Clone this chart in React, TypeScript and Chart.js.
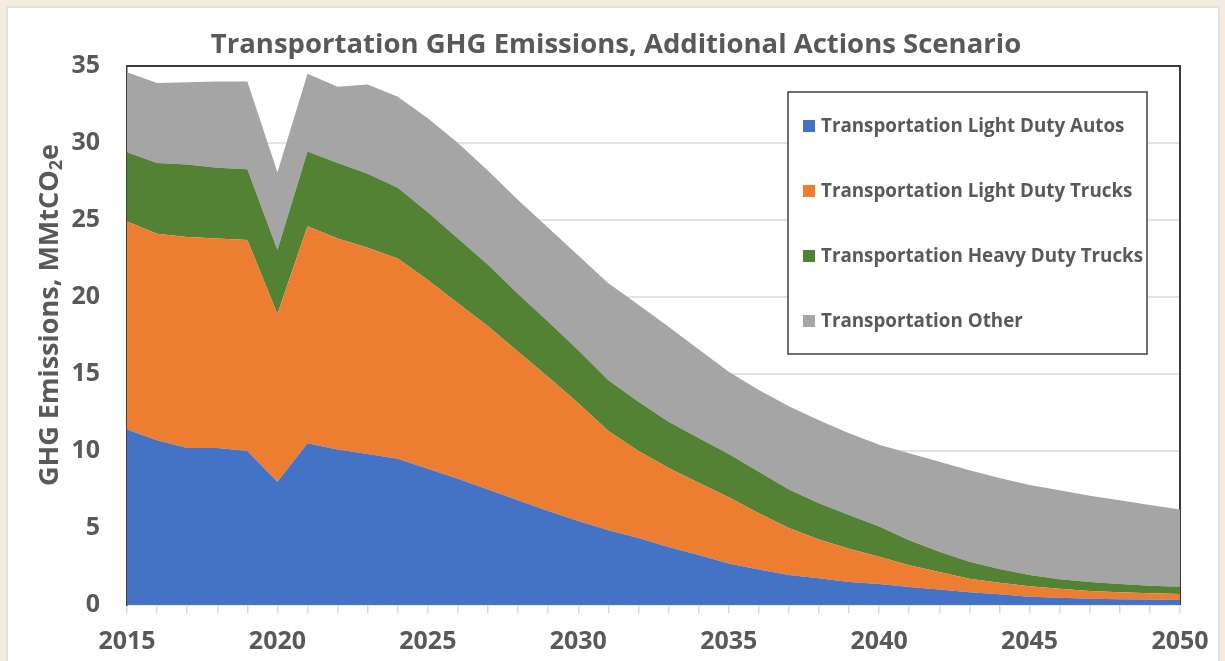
import React, { useEffect, useRef } from "react";
import { Chart, registerables } from "chart.js";

Chart.register(...registerables);

const years: number[] = [
  2015, 2016, 2017, 2018, 2019, 2020, 2021, 2022, 2023, 2024, 2025, 2026,
  2027, 2028, 2029, 2030, 2031, 2032, 2033, 2034, 2035, 2036, 2037, 2038,
  2039, 2040, 2041, 2042, 2043, 2044, 2045, 2046, 2047, 2048, 2049, 2050,
];

const lightDutyAutos: number[] = [
  11.4, 10.7, 10.2, 10.2, 10.0, 8.0, 10.5, 10.1, 9.8, 9.5, 8.85, 8.2, 7.5,
  6.8, 6.1, 5.45, 4.85, 4.35, 3.77, 3.25, 2.7, 2.3, 1.95, 1.73, 1.5, 1.36,
  1.17, 1.0, 0.82, 0.69, 0.54, 0.47, 0.41, 0.37, 0.35, 0.32,
];

const lightDutyTrucks: number[] = [
  13.5, 13.4, 13.7, 13.6, 13.7, 10.9, 14.1, 13.7, 13.4, 13.0, 12.25, 11.4,
  10.6, 9.65, 8.7, 7.65, 6.45, 5.65, 5.13, 4.69, 4.29, 3.65, 3.05, 2.52, 2.15,
  1.78, 1.41, 1.14, 0.89, 0.76, 0.67, 0.59, 0.5, 0.45, 0.41, 0.39,
];

const heavyDutyTrucks: number[] = [
  4.5, 4.6, 4.7, 4.6, 4.6, 4.15, 4.85, 4.9, 4.8, 4.6, 4.4, 4.2, 4.0, 3.75,
  3.6, 3.45, 3.3, 3.2, 3.0, 2.9, 2.81, 2.71, 2.5, 2.35, 2.19, 1.95, 1.62,
  1.31, 1.1, 0.89, 0.74, 0.61, 0.58, 0.54, 0.49, 0.48,
];

const otherTransport: number[] = [
  5.2, 5.2, 5.35, 5.6, 5.7, 5.05, 5.05, 4.95, 5.8, 5.9, 6.1, 6.2, 6.1, 6.1,
  6.1, 6.15, 6.3, 6.3, 6.17, 5.76, 5.35, 5.3, 5.4, 5.4, 5.31, 5.31, 5.65,
  5.85, 5.94, 5.91, 5.85, 5.78, 5.61, 5.44, 5.25, 5.01,
];

const seriesNames: string[] = [
  "Transportation Light Duty Autos",
  "Transportation Light Duty Trucks",
  "Transportation Heavy Duty Trucks",
  "Transportation Other",
];

const seriesColors: string[] = ["#4472C4", "#ED7D31", "#548235", "#A5A5A5"];

const yTicks: number[] = [0, 5, 10, 15, 20, 25, 30, 35];

const titleText = "Transportation GHG Emissions, Additional Actions Scenario";
const yTitleMain = "GHG Emissions, MMtCO";
const yTitleSub = "2";
const yTitleEnd = "e";

const FONT = "'Open Sans', 'Noto Sans', sans-serif";
const TEXT_COLOR = "#595959";

const frameBorderPlugin = {
  id: "frameBorder",
  beforeDatasetsDraw(chart: any) {
    const { ctx, chartArea } = chart;
    ctx.save();
    ctx.strokeStyle = "#3a3a3a";
    ctx.lineWidth = 2;
    ctx.beginPath();
    ctx.moveTo(chartArea.left, chartArea.top);
    ctx.lineTo(chartArea.right, chartArea.top);
    ctx.lineTo(chartArea.right, chartArea.bottom);
    ctx.stroke();
    ctx.restore();
  },
};

const yTitlePlugin = {
  id: "yTitle",
  afterDraw(chart: any) {
    const { ctx } = chart;
    const mainFont = `bold 27px ${FONT}`;
    const subFont = `bold 18px ${FONT}`;
    ctx.save();
    ctx.font = mainFont;
    const w1 = ctx.measureText(yTitleMain).width;
    const w3 = ctx.measureText(yTitleEnd).width;
    ctx.font = subFont;
    const w2 = ctx.measureText(yTitleSub).width;
    const total = w1 + w2 + w3;
    const cx = 50;
    const cy = 315;
    ctx.translate(cx, cy);
    ctx.rotate(-Math.PI / 2);
    ctx.fillStyle = TEXT_COLOR;
    ctx.textBaseline = "middle";
    ctx.textAlign = "left";
    let x = -total / 2;
    ctx.font = mainFont;
    ctx.fillText(yTitleMain, x, 0);
    x += w1;
    ctx.font = subFont;
    ctx.fillText(yTitleSub, x, 7);
    x += w2;
    ctx.font = mainFont;
    ctx.fillText(yTitleEnd, x, 0);
    ctx.restore();
  },
};

const boxLegendPlugin = {
  id: "boxLegend",
  afterDatasetsDraw(chart: any) {
    const { ctx } = chart;
    const x0 = 788;
    const y0 = 92;
    const w = 359;
    const h = 262;
    ctx.save();
    ctx.fillStyle = "#ffffff";
    ctx.fillRect(x0, y0, w, h);
    ctx.strokeStyle = "#404040";
    ctx.lineWidth = 1.5;
    ctx.strokeRect(x0, y0, w, h);
    ctx.font = `bold 18.8px ${FONT}`;
    ctx.textBaseline = "middle";
    ctx.textAlign = "left";
    chart.data.datasets.forEach((ds: any, i: number) => {
      const cy = y0 + 34 + i * 65;
      ctx.fillStyle = ds.backgroundColor;
      ctx.fillRect(x0 + 15, cy - 6, 12, 12);
      ctx.fillStyle = TEXT_COLOR;
      ctx.fillText(ds.label, x0 + 33, cy + 1);
    });
    ctx.restore();
  },
};

export default function App() {
  const canvasRef = useRef<HTMLCanvasElement | null>(null);

  useEffect(() => {
    if (!canvasRef.current) return;
    const values = [lightDutyAutos, lightDutyTrucks, heavyDutyTrucks, otherTransport];
    const chart = new Chart(canvasRef.current, {
      type: "line",
      data: {
        labels: years.map(String),
        datasets: values.map((arr, i) => ({
          label: seriesNames[i],
          data: arr,
          backgroundColor: seriesColors[i],
          borderColor: seriesColors[i],
          borderWidth: 0,
          pointRadius: 0,
          pointHoverRadius: 0,
          tension: 0,
          fill: i === 0 ? "origin" : "-1",
        })),
      },
      options: {
        animation: false,
        responsive: false,
        devicePixelRatio: 1,
        events: [],
        layout: { padding: { left: 52, right: 45, top: 0, bottom: 0 } },
        plugins: {
          legend: { display: false },
          tooltip: { enabled: false },
          title: {
            display: true,
            text: titleText,
            color: TEXT_COLOR,
            font: { family: FONT, size: 27.5, weight: "bold", lineHeight: 1.2 },
            padding: { top: 29, bottom: 4 },
          },
        },
        scales: {
          x: {
            type: "category",
            offset: false,
            grid: {
              display: true,
              drawOnChartArea: false,
              drawTicks: true,
              tickLength: 8,
              color: "#d9d9d9",
              lineWidth: 1.5,
            },
            border: { display: true, color: "#d9d9d9", width: 1.5 },
            ticks: {
              autoSkip: false,
              maxRotation: 0,
              minRotation: 0,
              padding: 14,
              color: TEXT_COLOR,
              font: { family: FONT, size: 25, weight: "bold" },
              callback: (_v: any, idx: number) =>
                years[idx] % 5 === 0 ? String(years[idx]) : "",
            },
            afterFit: (scale: any) => {
              scale.height = 56;
            },
          },
          y: {
            stacked: true,
            min: 0,
            max: 35,
            afterBuildTicks: (scale: any) => {
              scale.ticks = yTicks.map((v) => ({ value: v }));
            },
            grid: {
              drawTicks: false,
              lineWidth: 2,
              color: (c: any) =>
                c.tick && (c.tick.value === 35 || c.tick.value === 0)
                  ? "rgba(0,0,0,0)"
                  : "#e3e3e3",
            },
            border: { display: true, color: "#404040", width: 1.5 },
            ticks: {
              padding: 27,
              color: TEXT_COLOR,
              font: { family: FONT, size: 25, weight: "bold" },
            },
            title: { display: false },
            afterFit: (scale: any) => {
              scale.width = 75;
            },
          },
        },
      },
      plugins: [frameBorderPlugin, boxLegendPlugin, yTitlePlugin],
    });
    return () => chart.destroy();
  }, []);

  return (
    <div
      style={{
        position: "fixed",
        left: 0,
        top: 0,
        width: 1225,
        height: 661,
        overflow: "hidden",
        background: "#f6ebe0",
      }}
    >
      <div
        style={{
          position: "absolute",
          left: 6,
          top: 6,
          width: 1214,
          height: 700,
          background: "#ffffff",
          border: "2px solid #e2e2e2",
          boxSizing: "border-box",
        }}
      />
      <canvas
        ref={canvasRef}
        width={1225}
        height={661}
        style={{ position: "absolute", left: 0, top: 0, width: 1225, height: 661 }}
      />
    </div>
  );
}
